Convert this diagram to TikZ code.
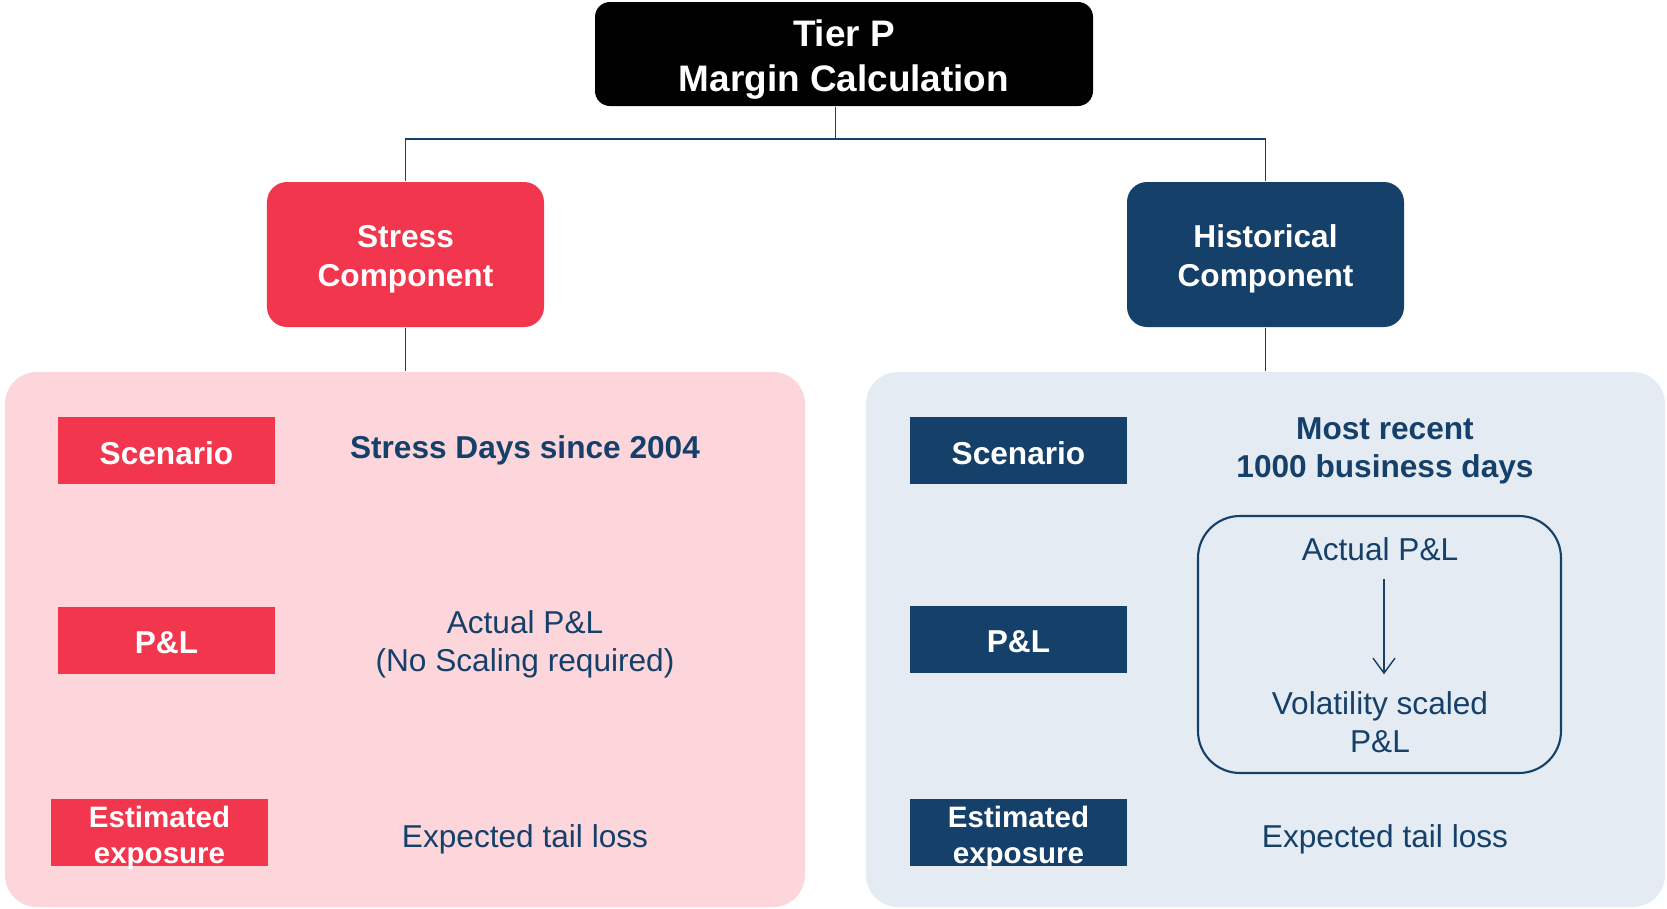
\documentclass[tikz,border=0pt]{standalone}
\usepackage{fontspec}
\setmainfont{Liberation Sans}
\usepackage{tikz}
\usetikzlibrary{arrows.meta, positioning}
\definecolor{tierred}{RGB}{242, 54, 77}
\definecolor{tiernavy}{RGB}{21, 64, 106}
\definecolor{panelpink}{RGB}{253, 214, 220}
\definecolor{panelblue}{RGB}{228, 235, 242}

\tikzset{
  headbox/.style={fill=black, text=white, rounded corners=0.15cm, minimum width=4.98cm, minimum height=1.04cm, align=center, text height=21.1pt, text depth=0pt, font=\fontsize{10.5pt}{12.8pt}\selectfont\bfseries},
  compbox/.style={rounded corners=0.2cm, minimum width=2.77cm, minimum height=1.45cm, text=white, align=center, text height=18pt, text depth=0pt, font=\fontsize{9pt}{10.9pt}\selectfont\bfseries},
  panel/.style={rounded corners=0.32cm, minimum width=8cm, minimum height=5.35cm},
  tagbox/.style={text=white, minimum width=2.17cm, minimum height=0.67cm, inner sep=0pt, align=center, text height=7.8pt, text depth=0pt, font=\fontsize{9pt}{10.9pt}\selectfont\bfseries},
  smalltag/.style={tagbox, text height=17.4pt, font=\fontsize{8.4pt}{10.2pt}\selectfont\bfseries},
  infotext/.style={text=tiernavy, align=center, font=\fontsize{9pt}{10.9pt}\selectfont},
  link/.style={draw=tiernavy, line width=0.5pt}
}

\begin{document}
\begin{tikzpicture}
\useasboundingbox (0,0) rectangle (16.67,-9.09);

% Panels
\node[panel, fill=panelpink] (stresspanel) at (4.05,-6.395) {};
\node[panel, fill=panelblue, minimum width=7.99cm] (histpanel) at (12.655,-6.395) {};

% Top and components
\node[headbox] (tier) at (8.44,-0.54) {Tier P\\Margin Calculation};
\node[compbox, fill=tierred] (stress) at (4.055,-2.545) {Stress\\Component};
\node[compbox, fill=tiernavy] (hist) at (12.655,-2.545) {Historical\\Component};

\coordinate (split) at (8.355,-1.39);
\draw[link] (tier.south -| split) -- (split);
\draw[link] (stress.north) |- (split) -| (hist.north);
\draw[link] (stress.south) -- (stress.south |- stresspanel.north);
\draw[link] (hist.south) -- (hist.south |- histpanel.north);

% Stress side
\node[tagbox, fill=tierred] (sscen) at (1.665,-4.505) {Scenario};
\node[tagbox, fill=tierred] (spl) at (1.665,-6.40) {P\&L};
\node[smalltag, fill=tierred] (sexp) at (1.595,-8.325) {Estimated\\exposure};
\node[infotext, font=\fontsize{9pt}{10.9pt}\selectfont\bfseries] (sdays) at (5.25,-4.50) {Stress Days since 2004};
\node[infotext] (sactual) at (5.25,-6.44) {Actual P\&L\\(No Scaling required)};
\node[infotext] (stail) at (5.25,-8.39) {Expected tail loss};

% Historical side
\node[tagbox, fill=tiernavy] (hscen) at (10.185,-4.505) {Scenario};
\node[tagbox, fill=tiernavy] (hpl) at (10.185,-6.39) {P\&L};
\node[smalltag, fill=tiernavy] (hexp) at (10.185,-8.325) {Estimated\\exposure};
\node[infotext, font=\fontsize{9pt}{10.9pt}\selectfont\bfseries] (hdays) at (13.85,-4.51) {Most recent\\1000 business days};
\node[draw=tiernavy, line width=0.6pt, rounded corners=0.42cm, minimum width=3.63cm, minimum height=2.57cm] (scalebox) at (13.795,-6.445) {};
\node[infotext] (hactual) at (13.80,-5.49) {Actual P\&L};
\node[infotext] (hvol) at (13.80,-7.225) {Volatility scaled\\P\&L};
\draw[-{Straight Barb[length=0.15cm, width=0.22cm]}, tiernavy, line width=0.4pt, shorten <=0.06cm, shorten >=0.05cm] (hactual.south -| 13.84,0) -- (hvol.north -| 13.84,0);
\node[infotext] (htail) at (13.85,-8.39) {Expected tail loss};
\end{tikzpicture}
\end{document}
